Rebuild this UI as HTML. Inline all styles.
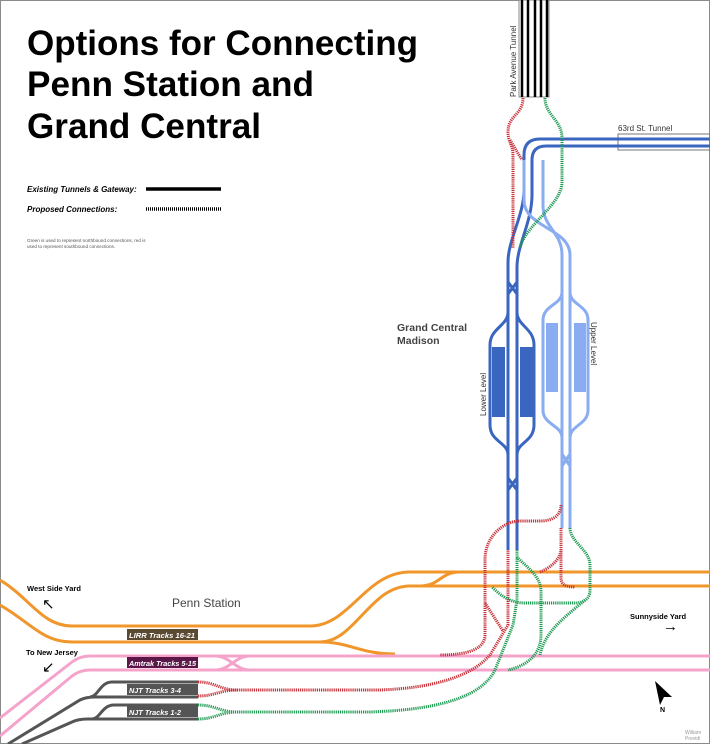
<!DOCTYPE html>
<html><head><meta charset="utf-8"><style>
html,body{margin:0;padding:0;background:#fff}
svg{display:block}
text{font-family:"Liberation Sans",sans-serif}
</style></head><body>
<svg width="710" height="744" viewBox="0 0 710 744" xmlns="http://www.w3.org/2000/svg">
<rect x="0.5" y="0.5" width="709" height="743" fill="#fff" stroke="#8a8a8a"/>
<!-- Title -->
<g font-weight="bold" font-size="35" fill="#000">
<text x="27" y="55" textLength="391" lengthAdjust="spacingAndGlyphs">Options for Connecting</text>
<text x="27" y="96" textLength="287" lengthAdjust="spacingAndGlyphs">Penn Station and</text>
<text x="27" y="138" textLength="234" lengthAdjust="spacingAndGlyphs">Grand Central</text>
</g>
<g font-weight="bold" font-style="italic" font-size="8" fill="#000">
<text x="27" y="192">Existing Tunnels &amp; Gateway:</text>
<text x="27" y="212">Proposed Connections:</text>
</g>
<line x1="146" y1="189" x2="221" y2="189" stroke="#000" stroke-width="3.5"/>
<line x1="146" y1="209" x2="221" y2="209" stroke="#000" stroke-width="3.5" stroke-dasharray="1 1"/>
<text x="27" y="242" font-size="4.6" fill="#555">Green is used to represent northbound connections, red is</text>
<text x="27" y="248" font-size="4.6" fill="#555">used to represent southbound connections.</text>

<!-- Park Ave tunnel -->
<rect x="519" y="0" width="30" height="97" fill="#fff" stroke="#888" stroke-width="1"/>
<g stroke="#000" stroke-width="2.5">
<line x1="522" y1="0" x2="522" y2="97"/><line x1="528" y1="0" x2="528" y2="97"/>
<line x1="535" y1="0" x2="535" y2="97"/><line x1="541" y1="0" x2="541" y2="97"/>
<line x1="547" y1="0" x2="547" y2="97"/>
</g>
<text transform="translate(516,97) rotate(-90)" font-size="8" fill="#333">Park Avenue Tunnel</text>
<!-- 63rd tunnel -->
<rect x="618" y="134" width="92" height="16" fill="none" stroke="#777" stroke-width="1"/>
<text x="618" y="131" font-size="8" fill="#333">63rd St. Tunnel</text>

<g fill="none" stroke-linecap="butt">
<!-- Orange LIRR -->
<g stroke="#f0962a" stroke-width="3">
<path d="M0,580 C30,598 42,626 72,626 L310,626 C350,626 365,572 410,572 L710,572"/>
<path d="M0,605 C30,622 42,642 72,642 L320,642 C355,642 370,586 410,586 L710,586"/>
<path d="M420,586 C440,586 440,572 460,572"/>
<path d="M320,642 C350,642 360,654 395,654"/>
</g>
<!-- Pink Amtrak -->
<g stroke="#f5a3cb" stroke-width="3">
<path d="M0,718 L72,662 Q80,656 90,656 L710,656"/>
<path d="M0,736 L72,676 Q80,670 90,670 L710,670"/>
<path d="M215,656 C230,656 235,670 250,670"/>
<path d="M215,670 C230,670 235,656 250,656"/>
</g>
<!-- NJT gray -->
<g stroke="#555" stroke-width="3">
<path d="M8,744 L80,700 Q86,697 95,697 L198,697"/>
<path d="M90,697 C98,697 100,682 112,682 L198,682"/>
<path d="M22,744 L72,722 Q78,719 88,719 L198,719"/>
<path d="M92,719 C100,719 102,705 114,705 L198,705"/>
</g>

<!-- Dark blue lower level -->
<g stroke="#3b66bf" stroke-width="3">
<path d="M710,139 L540,139 Q524,139 524,155 L524,190 C524,215 508,240 508,262 L508,550"/>
<path d="M710,146 L546,146 Q532,146 532,160 L532,195 C532,222 517,245 517,267 L517,550"/>
<path d="M508,282 L517,294 M517,282 L508,294"/>
<path d="M508,478 L517,490 M517,478 L508,490"/>
<path d="M508,312 C508,326 490,328 490,345 L490,425 C490,442 508,442 508,455"/>
<path d="M517,312 C517,326 534,328 534,345 L534,425 C534,442 517,442 517,455"/>
</g>
<rect x="492" y="347" width="13" height="70" fill="#3b66bf"/>
<rect x="520" y="347" width="13" height="70" fill="#3b66bf"/>
<!-- Light blue upper level -->
<g stroke="#8aacf0" stroke-width="3">
<path d="M524,160 L524,200 C524,228 570,228 570,255 L570,528"/>
<path d="M543,160 L543,205 C543,228 562,232 562,255 L562,528"/>
<path d="M562,454 L570,466 M570,454 L562,466"/>
<path d="M562,292 C562,305 543,305 543,320 L543,410 C543,425 562,425 562,438"/>
<path d="M570,292 C570,305 588,305 588,320 L588,410 C588,425 570,425 570,438"/>
</g>
<rect x="546" y="323" width="12" height="69" fill="#8aacf0"/>
<rect x="574" y="323" width="12" height="69" fill="#8aacf0"/>

<!-- Proposed red -->
<g stroke="#c8323a" stroke-width="3" stroke-dasharray="1.2 0.9">
<path d="M523,98 C523,115 508,115 508,132 C508,142 513,145 513,155 L513,248"/>
<path d="M510,140 L522,160"/>
<path d="M198,682 C215,682 220,690 237,690 M198,696 C215,696 220,690 237,690"/>
<path d="M237,690 L380,690 C430,688 470,678 490,655 L508,625 L508,550"/>
<path d="M485,603 L503,631"/>
<path d="M561,505 C561,516 552,521 540,521 L520,521 C505,521 485,535 485,560 L485,635 C485,648 470,655 440,655"/>
<path d="M561,528 L561,578 C561,585 566,587 575,587"/>
<path d="M540,572 C550,568 560,560 561,550"/>
</g>
<!-- Proposed green -->
<g stroke="#1e9a52" stroke-width="3" stroke-dasharray="1.2 0.9">
<path d="M545,98 C545,115 562,120 562,138 L562,182 C562,205 525,225 520,248"/>
<path d="M198,705 C215,705 220,712 237,712 M198,719 C215,719 220,712 237,712"/>
<path d="M237,712 L370,712 C430,710 480,700 495,670 L513,625 L517,600 L517,550"/>
<path d="M517,557 C525,566 541,575 541,592 L541,635 C541,652 530,665 508,670"/>
<path d="M570,528 C570,542 590,550 590,565 L590,590 C590,598 585,603 575,603 L525,603 C510,603 500,595 492,587"/>
<path d="M585,600 C568,615 545,630 540,655"/>
</g>
</g>

<!-- Track labels -->
<rect x="127" y="629" width="71" height="11" fill="#5b4a32"/>
<rect x="127" y="657" width="71" height="11" fill="#5a1748"/>
<rect x="127" y="684" width="71" height="11" fill="#555"/>
<rect x="127" y="706" width="71" height="11" fill="#555"/>
<g font-size="7.5" font-weight="bold" font-style="italic" fill="#fff">
<text x="129" y="638" textLength="66" lengthAdjust="spacingAndGlyphs">LIRR Tracks 16-21</text>
<text x="129" y="666" textLength="67" lengthAdjust="spacingAndGlyphs">Amtrak Tracks 5-15</text>
<text x="129" y="693" textLength="52" lengthAdjust="spacingAndGlyphs">NJT Tracks 3-4</text>
<text x="129" y="715" textLength="52" lengthAdjust="spacingAndGlyphs">NJT Tracks 1-2</text>
</g>

<text x="27" y="591" font-size="7.5" font-weight="bold" fill="#000">West Side Yard</text>
<text x="42" y="609" font-size="15" fill="#000">↖</text>
<text x="26" y="655" font-size="7.5" font-weight="bold" fill="#000">To New Jersey</text>
<text x="42" y="672" font-size="15" fill="#000">↙</text>
<text x="172" y="607" font-size="12" fill="#444">Penn Station</text>
<text x="630" y="619" font-size="7.5" font-weight="bold" fill="#000">Sunnyside Yard</text>
<text x="663" y="631" font-size="15" fill="#000">→</text>
<text x="397" y="331" font-size="10.5" font-weight="bold" fill="#444">Grand Central</text>
<text x="397" y="344" font-size="10.5" font-weight="bold" fill="#444">Madison</text>
<text transform="translate(486,416) rotate(-90)" font-size="8" fill="#333">Lower Level</text>
<text transform="translate(591,322) rotate(90)" font-size="8" fill="#333">Upper Level</text>
<path d="M655,681 L672,697 L664,697 L660,705 Z" fill="#000"/>
<text x="660" y="712" font-size="7" font-weight="bold" fill="#000">N</text>
<text x="685" y="734" font-size="5" fill="#999">William</text>
<text x="685" y="740" font-size="5" fill="#999">Previdi</text>
</svg>
</body></html>
